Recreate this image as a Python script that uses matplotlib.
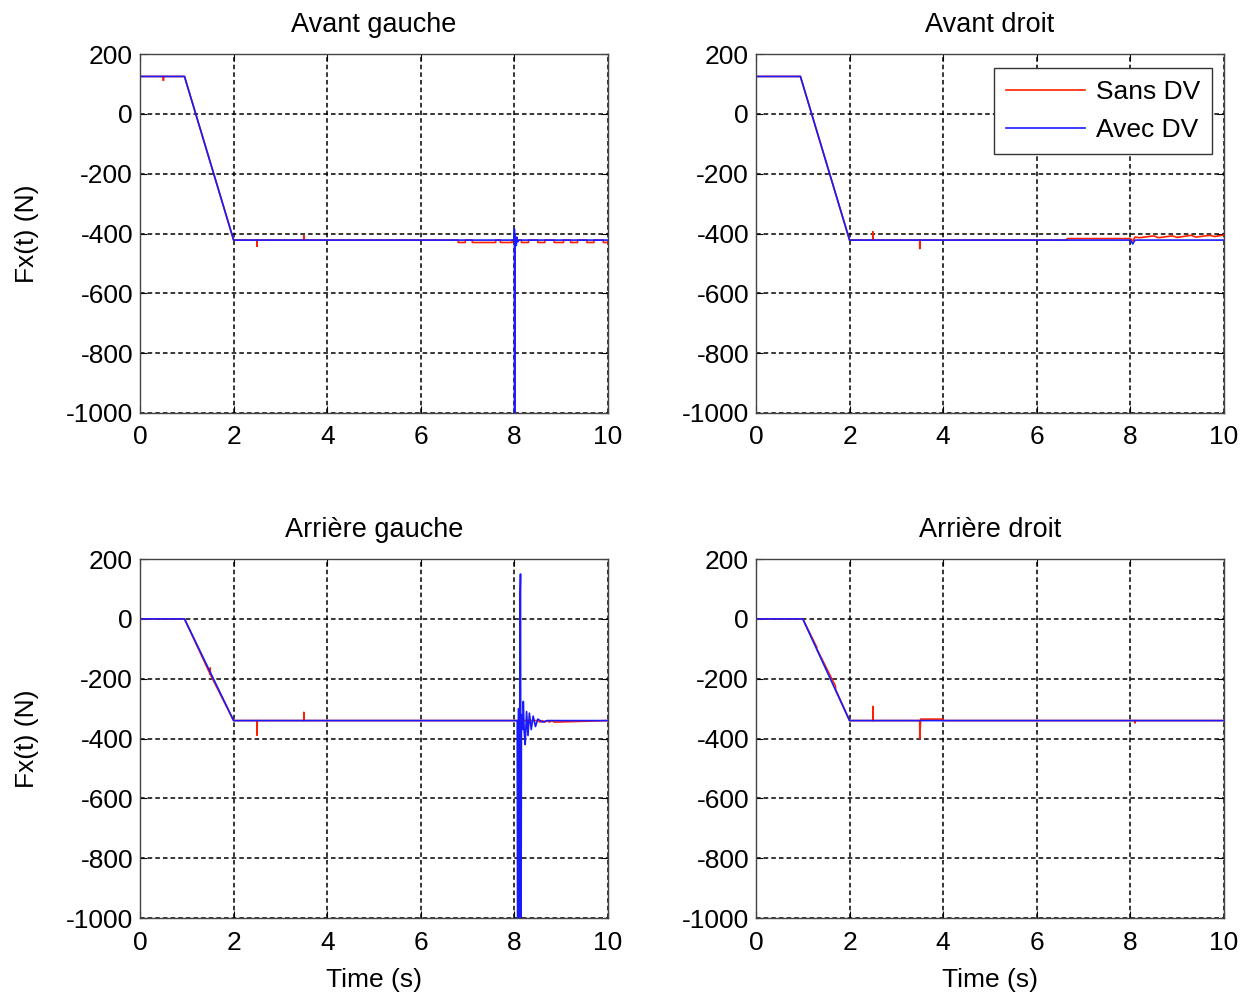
import matplotlib
matplotlib.use('Agg')
import matplotlib.pyplot as plt

plt.rcParams['font.family'] = ['Liberation Sans', 'DejaVu Sans']
plt.rcParams['axes.unicode_minus'] = False

titles = ['Avant gauche', 'Avant droit', 'Arrière gauche', 'Arrière droit']
xticks = [0, 2, 4, 6, 8, 10]
yticks = [200, 0, -200, -400, -600, -800, -1000]

# Avant gauche
t_ag_sans = [0, 0.5, 0.5, 0.5, 0.95, 2.0, 2.5, 2.5, 2.5, 3.5, 3.5, 3.5, 6.8, 6.8,
             6.95, 6.95, 7.1, 7.1, 7.6, 7.6, 7.7, 7.7, 7.95, 7.95, 8.15, 8.15, 8.3, 8.3,
             8.5, 8.5, 8.65, 8.65, 8.85, 8.85, 9.05, 9.05, 9.2, 9.2, 9.35, 9.35, 9.55,
             9.55, 9.7, 9.7, 9.9, 9.9, 10]
f_ag_sans = [125, 125, 112, 125, 125, -422, -422, -442, -422, -422, -408, -422, -422, -430,
             -430, -422, -422, -430, -430, -422, -422, -430, -430, -422, -422, -430, -430, -422,
             -422, -430, -430, -422, -422, -430, -430, -422, -422, -430, -430, -422, -422,
             -430, -430, -422, -422, -430, -430]
t_ag_avec = [0, 0.95, 2.0, 7.99, 8.0, 8.005, 8.01, 8.04, 8.05, 8.07, 8.1, 10]
f_ag_avec = [125, 125, -422, -422, -385, -1200, -405, -440, -412, -428, -422, -422]

# Avant droit
t_ad_sans = [0, 0.95, 2.0, 2.5, 2.5, 2.5, 3.5, 3.5, 3.5, 6.65, 6.65, 8.0, 8.05, 8.1,
             8.2, 8.5, 8.6, 8.9, 9.0, 9.3, 9.4, 9.7, 9.8, 10]
f_ad_sans = [125, 125, -422, -422, -395, -422, -422, -450, -422, -422, -417, -417, -425, -412,
             -414, -408, -414, -408, -413, -406, -412, -406, -410, -405]
t_ad_avec = [0, 0.95, 2.0, 8.0, 8.05, 8.1, 10]
f_ad_avec = [125, 125, -422, -422, -435, -422, -422]

# Arriere gauche
t_rg_sans = [0, 0.95, 1.5, 1.5, 1.5, 2.0, 2.5, 2.5, 2.5, 3.5, 3.5, 3.5, 8.1, 8.5, 8.55,
             8.6, 8.65, 8.7, 8.75, 8.8, 8.85, 10]
f_rg_sans = [0, 0, -185, -165, -185, -340, -340, -388, -340, -340, -313, -340, -340, -340, -345,
             -340, -345, -340, -345, -340, -345, -340]
t_rg_avec = [0, 0.95, 2.0, 8.06, 8.07, 8.09, 8.1, 8.12, 8.13, 8.14, 8.15, 8.18, 8.19,
             8.21, 8.23, 8.26, 8.29, 8.32, 8.36, 8.4, 8.45, 8.5, 8.6, 8.7, 10]
f_rg_avec = [0, 0, -340, -340, -1200, -300, -1200, 60, 150, -1200, -320, -370, -276,
             -380, -420, -310, -390, -315, -370, -325, -360, -335, -345, -340, -340]

# Arriere droit
t_rd_sans = [0, 1.0, 1.3, 1.3, 1.7, 1.7, 2.0, 2.5, 2.5, 2.5, 3.5, 3.5, 3.52, 4.0, 4.0,
             8.1, 8.1, 8.1, 10]
f_rd_sans = [0, 0, -95, -100, -225, -235, -340, -340, -293, -340, -340, -400, -335, -335, -340,
             -340, -347, -340, -340]
t_rd_avec = [0, 1.0, 2.0, 10]
f_rd_avec = [0, 0, -340, -340]

sans = [(t_ag_sans, f_ag_sans), (t_ad_sans, f_ad_sans), (t_rg_sans, f_rg_sans), (t_rd_sans, f_rd_sans)]
avec = [(t_ag_avec, f_ag_avec), (t_ad_avec, f_ad_avec), (t_rg_avec, f_rg_avec), (t_rd_avec, f_rd_avec)]

fig = plt.figure(figsize=(12.57, 9.93), dpi=100)
lefts = [0.1114, 0.6014]
bottoms = [0.5841, 0.0755]
W, H = 0.3723, 0.3615

for i in range(4):
    r, c = divmod(i, 2)
    ax = fig.add_axes([lefts[c], bottoms[r], W, H])
    ls, = ax.plot(*sans[i], color='#ff2000', lw=1.2, label='Sans DV')
    la, = ax.plot(*avec[i], color='#1a1aff', lw=1.2, label='Avec DV')
    ax.set_xlim(0, 10); ax.set_ylim(-1000, 200)
    ax.set_xticks(xticks); ax.set_yticks(yticks)
    ax.grid(True, color='black', linestyle=(0, (3, 2)), linewidth=1.1)
    ax.tick_params(direction='in', top=True, right=True, labelsize=19, length=5, pad=5)
    ax.tick_params(axis='x', pad=9)
    for s in ax.spines.values():
        s.set_color('#444444'); s.set_linewidth(1.0)
    ax.set_title(titles[i], fontsize=19.5, pad=16)
    if c == 0:
        ax.set_ylabel('Fx(t) (N)', fontsize=19, labelpad=19)
    if r == 1:
        ax.set_xlabel('Time (s)', fontsize=19, labelpad=10)
    if i == 1:
        ax.legend(handles=[ls, la], loc='upper right', fontsize=19, fancybox=False,
                  edgecolor='#333333', framealpha=1, handlelength=3.0, handletextpad=0.4,
                  borderpad=0.45, labelspacing=0.55, borderaxespad=0,
                  bbox_to_anchor=(0.974, 0.961))

fig.savefig('out.png', dpi=100)
